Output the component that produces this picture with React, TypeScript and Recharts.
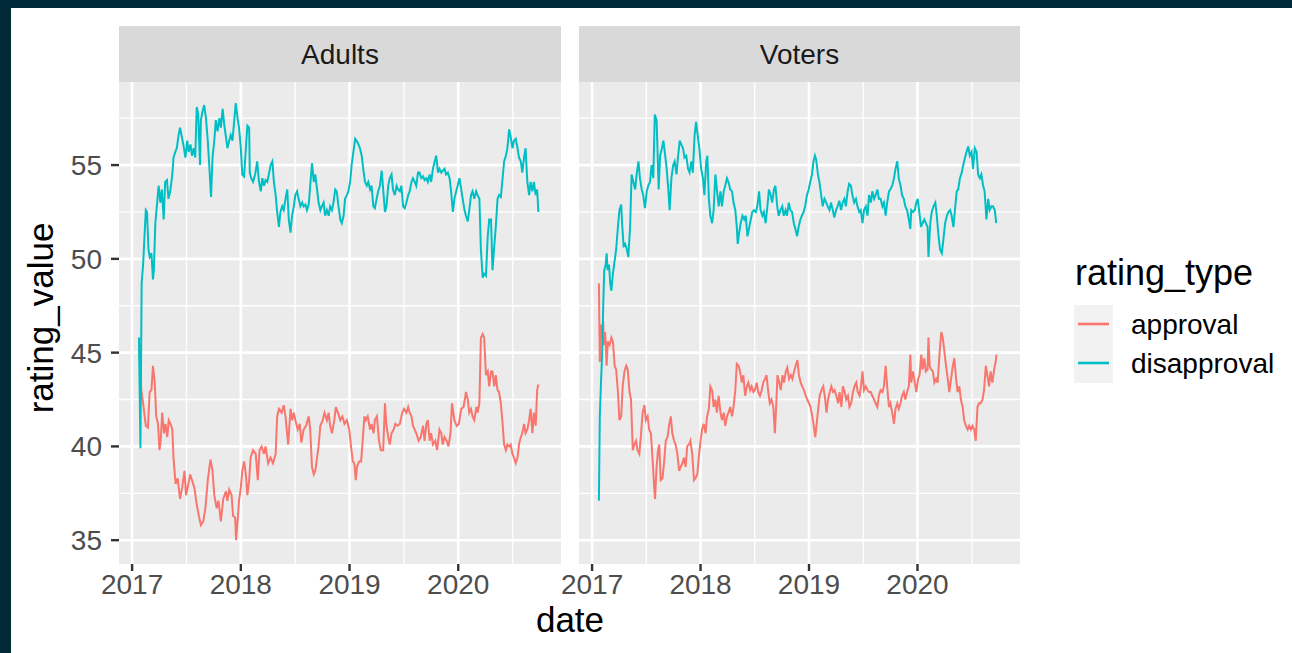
import React from 'react';
import { LineChart, Line, XAxis, YAxis, CartesianGrid } from 'recharts';

// x values are days since 2017-01-01
const yearLabels = ['2017', '2018', '2019', '2020'];
const yearTicks = [0, 365, 730, 1095];
const yearMinor = [182.5, 547.5, 912.5, 1278];
const valueTicks = [35, 40, 45, 50, 55];
const valueMinor = [37.5, 42.5, 47.5, 52.5, 57.5];
const dayDomain = [-44, 1440];
const valueDomain = [33.73, 59.43];
const panelNames = ['Adults', 'Voters'];
const ratingTypes = ['approval', 'disapproval'];
const ratingColors = ['#F8766D', '#00BFC4'];

const adultsApproval: [number, number][] = [
  [23,45.8],[31,43.0],[37,42.3],[46,41.1],[53,41.0],[59,42.9],[65,43.0],[70,44.3],[76,43.4],[81,41.6],[87,41.2],[92,39.8],[96,40.3],[101,41.8],[107,40.7],[112,41.2],[118,40.5],[123,41.4],[129,41.2],[135,40.9],[139,39.4],[146,38.0],[153,38.3],[161,37.2],[168,37.8],[176,38.7],[181,37.4],[189,38.0],[195,38.5],[201,38.2],[209,37.8],[217,36.9],[224,36.3],[231,35.8],[239,36.0],[246,36.7],[254,38.2],[263,39.3],[270,38.7],[276,37.4],[284,36.7],[290,37.1],[298,36.0],[306,37.2],[315,37.6],[320,37.1],[326,37.7],[334,37.4],[339,36.3],[346,36.2],[349,35.0],[355,36.2],[359,37.1],[365,37.8],[370,38.7],[376,39.2],[382,38.5],[387,37.4],[393,38.2],[398,39.4],[406,39.8],[415,39.6],[422,38.2],[428,39.8],[435,40.0],[443,39.6],[448,40.0],[457,39.1],[465,39.4],[473,39.1],[482,39.6],[487,41.6],[493,42.0],[502,41.8],[509,42.2],[515,41.6],[524,40.1],[532,42.0],[537,41.4],[543,41.8],[548,41.4],[556,40.9],[563,41.2],[568,40.2],[576,40.9],[584,41.1],[593,41.6],[598,40.9],[604,38.9],[610,38.5],[615,38.7],[621,39.4],[626,40.0],[632,41.1],[640,41.4],[646,41.8],[654,41.4],[660,41.8],[665,41.1],[671,40.7],[679,41.4],[684,42.1],[691,41.8],[699,41.4],[706,41.6],[713,41.2],[721,41.4],[729,40.9],[735,40.0],[741,39.2],[746,39.1],[751,38.2],[755,38.9],[762,39.2],[769,39.2],[774,40.3],[780,41.6],[785,41.4],[791,41.6],[799,40.9],[804,41.2],[811,40.7],[815,41.4],[822,41.6],[829,40.3],[835,39.8],[843,39.8],[849,42.3],[854,41.1],[860,40.5],[865,40.1],[871,40.7],[878,40.9],[884,41.2],[891,41.1],[899,41.2],[907,41.8],[913,42.0],[921,41.8],[927,42.1],[932,41.8],[938,41.6],[943,41.1],[949,40.9],[954,40.7],[962,40.3],[969,40.5],[977,41.1],[982,40.3],[988,41.2],[993,41.4],[999,40.3],[1004,40.7],[1010,40.1],[1018,40.3],[1024,39.8],[1032,40.9],[1038,40.7],[1043,40.1],[1049,40.5],[1056,40.3],[1062,40.0],[1069,40.7],[1074,42.3],[1082,41.4],[1090,41.1],[1097,41.2],[1105,42.0],[1113,42.1],[1121,42.9],[1127,42.5],[1132,41.8],[1138,42.0],[1143,41.6],[1149,41.4],[1156,42.1],[1160,41.8],[1166,42.3],[1171,45.8],[1177,46.0],[1182,45.8],[1188,43.8],[1194,44.0],[1199,43.2],[1205,44.0],[1210,44.0],[1216,43.2],[1221,43.8],[1227,43.0],[1232,42.9],[1238,42.3],[1244,41.2],[1249,40.1],[1255,39.8],[1260,40.1],[1266,40.0],[1271,40.1],[1277,39.6],[1282,39.4],[1288,39.1],[1294,39.4],[1299,40.1],[1305,40.5],[1310,40.7],[1316,41.2],[1321,40.7],[1327,40.9],[1333,41.4],[1338,42.0],[1344,40.7],[1349,41.8],[1355,41.1],[1360,43.0],[1364,43.3],
];

const adultsDisapproval: [number, number][] = [
  [23,45.8],[28,39.9],[32,48.7],[37,49.7],[41,51.0],[46,52.6],[50,52.5],[55,50.5],[59,50.1],[65,50.3],[70,48.9],[73,49.4],[78,51.9],[83,52.8],[89,53.9],[95,53.0],[100,53.7],[106,52.1],[111,54.1],[117,54.2],[122,53.2],[128,53.6],[135,54.5],[139,55.4],[145,55.7],[150,55.9],[156,56.6],[161,57.0],[167,56.5],[172,56.1],[179,55.4],[185,56.3],[190,55.7],[196,56.1],[201,55.5],[207,55.9],[212,55.4],[217,58.1],[222,57.7],[228,55.0],[231,57.4],[237,57.9],[242,58.2],[248,57.5],[254,56.3],[259,55.0],[265,53.3],[270,55.4],[276,56.3],[281,57.4],[287,56.8],[293,57.5],[298,57.0],[304,58.0],[309,57.2],[315,56.5],[320,55.9],[326,56.3],[331,56.6],[337,56.3],[343,57.4],[348,58.3],[354,57.5],[359,57.0],[365,55.9],[370,54.5],[376,54.4],[382,55.9],[387,57.1],[393,57.0],[395,54.6],[400,54.3],[406,54.1],[413,54.5],[420,55.2],[426,54.1],[432,53.6],[437,54.3],[443,53.9],[448,54.2],[454,54.1],[459,54.5],[465,55.0],[471,55.2],[476,54.1],[482,53.4],[487,52.5],[493,51.7],[498,52.5],[504,52.8],[509,52.6],[515,53.2],[521,53.7],[526,52.1],[532,51.4],[537,52.3],[543,52.8],[548,53.4],[554,53.6],[559,53.2],[565,52.8],[571,53.0],[576,52.8],[582,52.9],[587,52.6],[593,52.9],[598,53.9],[604,55.1],[610,54.1],[615,54.5],[621,53.7],[626,53.0],[632,52.6],[637,52.8],[643,53.0],[648,52.3],[654,52.6],[660,52.3],[665,52.8],[671,52.6],[676,53.0],[682,53.7],[687,53.6],[693,52.8],[699,52.1],[704,51.9],[710,52.3],[715,53.2],[721,53.4],[726,53.6],[732,54.1],[737,55.0],[743,55.7],[749,56.4],[754,56.3],[760,56.1],[765,55.9],[771,55.5],[776,54.8],[782,54.1],[788,53.9],[793,54.1],[799,53.7],[804,53.9],[810,52.8],[815,52.7],[821,53.2],[826,53.6],[832,53.9],[838,54.7],[843,53.7],[849,52.5],[854,52.8],[860,53.9],[865,54.3],[871,54.5],[876,53.7],[882,53.4],[888,53.9],[893,53.7],[899,53.6],[904,53.9],[910,52.8],[915,52.7],[921,53.0],[927,53.4],[932,53.6],[938,54.1],[943,54.3],[949,54.1],[954,53.9],[960,54.6],[965,54.6],[971,54.3],[977,54.4],[982,54.2],[988,54.3],[993,54.1],[999,54.5],[1004,54.1],[1010,54.8],[1016,55.2],[1021,55.5],[1027,54.6],[1032,54.8],[1038,54.6],[1043,54.7],[1049,54.8],[1054,54.5],[1060,54.6],[1066,54.3],[1071,53.6],[1077,52.5],[1082,53.2],[1088,53.6],[1093,53.9],[1099,54.3],[1105,53.7],[1110,53.2],[1116,52.6],[1121,52.3],[1127,52.0],[1132,52.6],[1138,53.4],[1143,53.6],[1149,53.2],[1155,53.6],[1160,53.4],[1166,53.2],[1171,50.5],[1177,49.0],[1182,49.2],[1188,49.1],[1194,51.2],[1199,52.1],[1205,52.1],[1210,49.4],[1216,50.7],[1221,51.7],[1227,53.2],[1232,53.4],[1238,53.3],[1244,54.3],[1249,55.2],[1255,55.5],[1260,55.9],[1266,56.9],[1271,56.5],[1277,55.9],[1282,56.3],[1288,56.4],[1294,55.9],[1299,55.4],[1305,55.2],[1310,54.6],[1316,55.4],[1321,55.9],[1327,54.1],[1333,53.4],[1338,54.1],[1344,53.6],[1349,54.1],[1355,53.4],[1360,53.7],[1364,52.5],
];

const votersApproval: [number, number][] = [
  [23,48.7],[26,44.5],[30,46.5],[33,45.8],[37,46.7],[40,45.4],[44,46.1],[49,44.3],[53,45.6],[59,45.4],[65,45.8],[70,45.6],[76,44.3],[81,44.1],[87,42.9],[92,41.4],[98,41.6],[103,43.2],[109,44.0],[115,44.3],[120,44.1],[126,42.9],[131,42.5],[137,39.8],[142,40.1],[148,40.3],[153,39.8],[159,39.6],[165,40.7],[170,41.8],[176,42.2],[181,41.4],[187,41.6],[192,40.9],[198,40.7],[204,39.2],[209,37.8],[212,37.2],[217,38.9],[222,39.8],[226,40.1],[231,38.2],[237,38.3],[242,39.1],[248,40.3],[254,40.5],[259,41.1],[265,41.6],[270,40.7],[276,40.3],[281,40.1],[287,39.6],[293,38.7],[298,38.9],[304,39.1],[309,39.4],[315,38.9],[320,40.0],[326,40.1],[331,40.3],[337,39.6],[343,38.2],[348,38.3],[354,38.5],[359,39.4],[365,40.3],[370,40.9],[376,41.2],[382,40.7],[387,41.6],[393,42.0],[398,43.2],[404,43.0],[409,42.1],[415,42.5],[420,41.8],[426,42.7],[432,41.8],[437,41.4],[443,41.8],[448,41.1],[454,41.6],[459,41.8],[465,42.1],[471,41.6],[476,42.1],[482,43.0],[487,44.4],[493,44.3],[498,44.0],[504,43.4],[509,43.8],[515,42.7],[521,43.2],[526,43.4],[532,43.0],[537,43.2],[543,42.9],[548,43.0],[554,43.4],[559,42.9],[565,42.7],[571,43.0],[576,43.4],[582,43.6],[587,43.8],[593,42.9],[598,42.3],[604,42.5],[610,42.1],[615,40.7],[618,41.6],[624,43.8],[630,43.4],[635,43.0],[641,43.8],[646,43.4],[652,44.0],[657,44.2],[663,43.6],[669,43.8],[674,43.6],[680,44.0],[685,44.3],[691,44.6],[696,43.8],[702,43.4],[707,43.2],[713,43.0],[719,42.7],[724,42.5],[730,42.3],[735,42.1],[741,41.6],[746,41.1],[751,40.5],[755,41.1],[761,42.0],[766,42.7],[772,43.0],[778,43.2],[783,42.7],[789,41.8],[794,42.5],[800,42.9],[805,43.2],[811,42.9],[816,43.0],[822,42.7],[828,42.3],[833,42.9],[839,42.1],[844,43.2],[850,42.9],[855,42.5],[861,42.7],[866,42.1],[872,42.3],[878,42.9],[883,43.2],[889,43.4],[894,42.9],[900,42.7],[905,43.2],[910,44.0],[915,43.0],[921,43.2],[927,43.0],[932,42.9],[938,42.9],[943,42.7],[949,42.5],[954,42.3],[960,42.1],[965,42.7],[971,43.0],[977,42.9],[982,43.2],[988,44.3],[993,43.2],[999,42.1],[1004,42.3],[1010,41.8],[1016,41.2],[1021,42.0],[1027,42.3],[1032,42.0],[1038,42.3],[1043,42.7],[1049,42.9],[1054,42.5],[1060,42.9],[1066,43.2],[1071,44.9],[1074,43.4],[1080,44.0],[1086,43.4],[1091,42.9],[1097,43.6],[1102,43.8],[1108,44.9],[1112,44.1],[1118,44.7],[1123,44.0],[1129,44.1],[1132,45.8],[1136,44.3],[1141,44.1],[1147,44.0],[1152,43.4],[1158,43.6],[1163,43.4],[1169,44.9],[1175,46.1],[1180,45.8],[1186,45.0],[1191,44.3],[1197,43.6],[1202,42.9],[1208,43.6],[1214,44.3],[1219,44.7],[1225,43.6],[1230,42.9],[1236,43.2],[1241,42.5],[1247,42.1],[1252,41.4],[1258,41.1],[1264,40.9],[1269,41.1],[1275,40.9],[1280,41.1],[1286,40.9],[1291,40.3],[1297,42.1],[1302,42.3],[1308,42.3],[1314,42.5],[1319,43.0],[1325,44.3],[1330,43.8],[1336,43.2],[1341,44.0],[1347,43.4],[1353,44.1],[1358,44.5],[1361,44.9],
];

const votersDisapproval: [number, number][] = [
  [23,37.1],[26,41.6],[30,43.4],[34,45.0],[38,47.8],[41,49.4],[46,49.7],[49,50.3],[52,49.4],[57,49.7],[61,48.7],[65,48.3],[70,49.2],[76,49.9],[81,50.5],[87,51.7],[92,52.6],[98,52.9],[101,51.9],[106,50.7],[111,50.8],[117,50.5],[122,50.1],[128,51.7],[133,54.5],[139,54.1],[145,53.7],[150,54.5],[156,55.2],[161,54.3],[167,53.7],[172,53.4],[178,52.7],[184,53.6],[189,53.9],[195,54.1],[200,55.0],[206,54.3],[211,57.7],[217,57.4],[220,55.9],[224,53.7],[229,55.5],[235,55.9],[240,56.3],[246,55.5],[251,54.8],[257,53.6],[261,52.6],[267,54.3],[273,55.0],[278,55.2],[284,54.5],[289,55.4],[295,56.3],[300,56.1],[306,55.9],[311,55.4],[317,55.5],[323,54.8],[328,54.6],[334,55.2],[339,54.6],[345,56.6],[350,57.3],[356,56.5],[361,55.9],[367,54.8],[373,54.3],[378,53.4],[384,55.2],[388,55.5],[393,53.2],[398,52.3],[404,51.9],[409,52.6],[415,54.5],[420,53.7],[426,52.8],[432,53.6],[437,52.8],[443,53.6],[448,53.9],[454,54.3],[459,54.1],[465,53.7],[471,53.6],[476,53.0],[482,52.6],[487,51.7],[490,50.8],[495,51.4],[500,51.9],[506,52.3],[512,52.1],[517,52.3],[523,51.2],[528,51.6],[534,52.1],[539,52.5],[545,52.6],[551,52.5],[556,52.8],[562,53.6],[567,52.6],[573,52.3],[578,52.5],[584,51.9],[590,52.8],[595,53.7],[601,53.4],[606,53.0],[612,53.7],[617,53.9],[623,52.8],[628,52.3],[634,52.6],[640,52.8],[645,52.3],[651,52.6],[656,52.3],[662,53.0],[667,52.6],[673,52.5],[679,51.9],[684,51.6],[690,51.2],[695,51.7],[701,52.1],[706,52.3],[712,52.5],[717,52.8],[723,53.4],[729,53.7],[734,54.1],[740,54.5],[745,55.2],[750,55.5],[754,55.3],[760,54.5],[765,54.1],[771,53.4],[776,52.8],[782,53.2],[788,53.0],[793,52.8],[799,52.6],[804,53.0],[810,52.6],[815,52.2],[821,52.6],[826,52.8],[832,53.1],[838,52.6],[843,53.0],[849,53.2],[854,52.8],[860,53.6],[865,54.0],[871,53.9],[876,53.4],[882,53.0],[888,53.2],[893,52.8],[899,52.5],[904,52.6],[910,51.9],[915,52.6],[921,52.8],[927,52.3],[932,53.4],[938,53.0],[943,53.6],[949,53.2],[954,53.4],[960,53.7],[965,53.2],[971,53.2],[977,52.8],[982,53.0],[988,52.3],[993,53.0],[999,53.6],[1004,53.7],[1010,53.9],[1016,54.3],[1021,54.8],[1027,55.2],[1032,54.3],[1038,53.9],[1043,53.4],[1049,53.2],[1054,52.8],[1060,52.6],[1066,52.1],[1071,51.6],[1074,52.6],[1080,52.5],[1086,52.6],[1091,53.0],[1096,53.2],[1101,52.5],[1107,51.7],[1112,51.9],[1118,52.1],[1123,51.9],[1129,51.7],[1132,50.1],[1138,51.9],[1143,52.5],[1149,52.8],[1155,53.0],[1160,52.3],[1166,51.2],[1171,50.5],[1177,50.3],[1182,51.0],[1188,51.9],[1194,52.3],[1199,52.5],[1205,52.6],[1210,52.3],[1216,51.7],[1221,52.6],[1227,53.6],[1232,53.7],[1238,54.3],[1244,54.6],[1249,55.0],[1255,55.4],[1260,55.7],[1266,56.0],[1271,55.5],[1277,55.7],[1282,54.8],[1288,55.9],[1294,55.7],[1299,54.5],[1305,54.3],[1310,54.5],[1316,53.9],[1321,53.6],[1327,52.1],[1333,53.2],[1338,52.6],[1344,52.8],[1349,52.8],[1355,52.6],[1360,51.9],
];

const FONT = '"Liberation Sans", Arial, Helvetica, sans-serif';
const toRows = (pairs: [number, number][]) => pairs.map(([day, value]) => ({ day, value }));

const tickStyle = { fill: '#4D4D4D', fontSize: 28, fontFamily: FONT };
const tickLineStyle = { stroke: '#333333', strokeWidth: 2.4 };

// each facet is its own LineChart; padLeft leaves room for the first x tick label
function Panel({ left, padLeft, plotWidth, showY, series }: {
  left: number; padLeft: number; plotWidth: number; showY: boolean; series: [number, number][][];
}) {
  return (
    <div style={{ position: 'absolute', left, top: 82 }}>
      <LineChart width={padLeft + plotWidth} height={532} margin={{ top: 0, right: 0, bottom: 0, left: showY ? 0 : padLeft }}>
        <CartesianGrid fill="#EBEBEB" fillOpacity={1} stroke="#FFFFFF" strokeWidth={1.3}
          horizontalValues={valueMinor} verticalValues={yearMinor} />
        <CartesianGrid fill="none" stroke="#FFFFFF" strokeWidth={2.6}
          horizontalValues={valueTicks} verticalValues={yearTicks} />
        <XAxis type="number" dataKey="day" domain={dayDomain} ticks={yearTicks} interval={0}
          tickFormatter={(d: number) => yearLabels[yearTicks.indexOf(d)]}
          height={50} axisLine={false} tickLine={tickLineStyle} tickSize={7} tickMargin={3} tick={tickStyle} />
        <YAxis type="number" domain={valueDomain} ticks={valueTicks} interval={0} hide={!showY}
          width={showY ? padLeft : 0} axisLine={false} tickLine={tickLineStyle} tickSize={8} tickMargin={9} tick={tickStyle} />
        {series.map((pairs, i) => (
          <Line key={ratingTypes[i]} data={toRows(pairs)} dataKey="value" type="linear"
            stroke={ratingColors[i]} strokeWidth={2} dot={false} activeDot={false} isAnimationActive={false} />
        ))}
      </LineChart>
    </div>
  );
}

function Strip({ left, width, label }: { left: number; width: number; label: string }) {
  return (
    <div style={{
      position: 'absolute', left, top: 26, width, height: 56, background: '#D9D9D9',
      color: '#1A1A1A', fontFamily: FONT, fontSize: 28, lineHeight: '57px', textAlign: 'center',
    }}>{label}</div>
  );
}

export default function App() {
  return (
    <div style={{ position: 'absolute', left: 0, top: 0, width: 1292, height: 653, background: '#012a38', overflow: 'hidden' }}>
      <div style={{ position: 'absolute', left: 11, top: 8, right: 0, bottom: 0, background: '#FFFFFF' }} />
      <Strip left={119} width={442} label={panelNames[0]} />
      <Strip left={579} width={441} label={panelNames[1]} />
      <Panel left={0} padLeft={119} plotWidth={442} showY series={[adultsApproval, adultsDisapproval]} />
      <Panel left={539} padLeft={40} plotWidth={441} showY={false} series={[votersApproval, votersDisapproval]} />
      <svg width={1292} height={653} style={{ position: 'absolute', left: 0, top: 0, pointerEvents: 'none' }}>
        <text transform="rotate(-90)" x={-318} y={53} textAnchor="middle" fontSize={35} fontFamily={FONT} fill="#000">rating_value</text>
        <text x={570} y={632} textAnchor="middle" fontSize={35} fontFamily={FONT} fill="#000">date</text>
        <text x={1075} y={285} fontSize={36} fontFamily={FONT} fill="#000">rating_type</text>
        <rect x={1074} y={305} width={39} height={78} fill="#F2F2F2" />
        {ratingTypes.map((t, i) => (
          <g key={t}>
            <line x1={1078} x2={1109} y1={324 + i * 39} y2={324 + i * 39} stroke={ratingColors[i]} strokeWidth={2.6} />
            <text x={1131} y={334 + i * 39} fontSize={28} fontFamily={FONT} fill="#000">{t}</text>
          </g>
        ))}
      </svg>
    </div>
  );
}
